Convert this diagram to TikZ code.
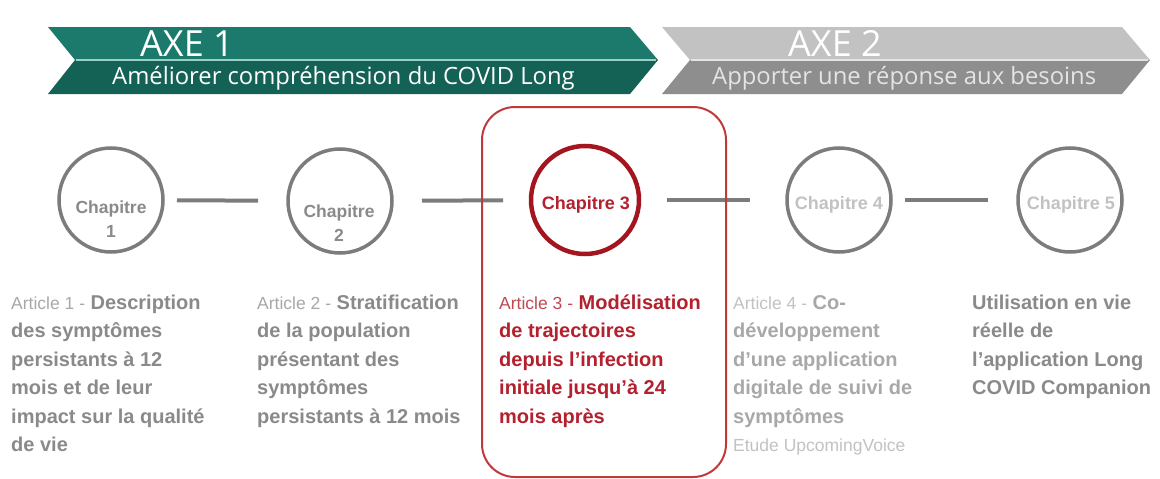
\documentclass[tikz,border=0pt]{standalone}
\usepackage{fontspec}
\setmainfont{Liberation Sans}
\newfontfamily\bannerfont{Open Sans}
\definecolor{tealup}{HTML}{1B7A6C}
\definecolor{tealdown}{HTML}{146256}
\definecolor{tealline}{HTML}{9CCFC6}
\definecolor{greyup}{HTML}{C2C2C2}
\definecolor{greydown}{HTML}{8E8E8E}
\definecolor{greyline}{HTML}{E4E4E4}
\definecolor{ring}{HTML}{7C7C7C}
\definecolor{ringred}{HTML}{A3161F}
\definecolor{framered}{HTML}{C03A3C}
\definecolor{txtdark}{HTML}{8A8A8A}
\definecolor{txtlight}{HTML}{A8A8A8}
\definecolor{txtpale}{HTML}{C2C2C2}
\definecolor{txtred}{HTML}{B3202E}
\definecolor{txtredlight}{HTML}{BE4A52}
\tikzset{
  chapring/.style={circle, draw=ring, line width=3.5pt, minimum size=104pt, inner sep=0pt, outer sep=0pt},
  chapringred/.style={circle, draw=ringred, line width=4.5pt, minimum size=108pt, inner sep=0pt, outer sep=0pt},
  chaptext/.style={font=\fontsize{17.5}{24}\selectfont\bfseries, align=center, inner sep=0pt},
  link/.style={draw=ring, line width=4pt},
  column/.style={anchor=north west, inner sep=0pt, align=left, font=\fontsize{20}{28.5}\selectfont\bfseries},
  axetitle/.style={anchor=base west, inner sep=0pt, text=white, font=\bannerfont\fontsize{36}{40}\selectfont},
  axesub/.style={anchor=base west, inner sep=0pt, font=\bannerfont\fontsize{23.8}{28}\selectfont},
}
\newcommand{\art}[1]{{\mdseries\fontsize{17.5}{28.5}\selectfont #1}}
\begin{document}
\begin{tikzpicture}[x=1pt, y=1pt]
\useasboundingbox (0,0) rectangle (1160,-479);
\fill[white] (0,0) rectangle (1160,-479);

% --- Axis banners ---
\fill[tealup] (48,-27) -- (630,-27) -- (658,-60) -- (75,-60) -- cycle;
\fill[tealdown] (75,-60) -- (658,-60) -- (630,-94) -- (48,-94) -- cycle;
\draw[tealline, line width=1.6pt] (76,-60) -- (656,-60);
\fill[greyup] (662,-27) -- (1122,-27) -- (1150,-60) -- (690,-60) -- cycle;
\fill[greydown] (690,-60) -- (1150,-60) -- (1122,-94) -- (662,-94) -- cycle;
\draw[greyline, line width=1.6pt] (691,-60) -- (1148,-60);

\node[axetitle] (axe1) at (140,-56) {AXE 1};
\node[axesub, text=white] (axe1s) at (112,-84) {Améliorer compréhension du COVID Long};
\node[axetitle] (axe2) at (788,-56) {AXE 2};
\node[axesub, text=greyline] (axe2s) at (712,-84) {Apporter une réponse aux besoins};

% --- Chapter rings ---
\node[chapring] (c1) at (111,-200) {};
\node[chapring] (c2) at (340,-201) {};
\node[chapringred] (c3) at (585,-200) {};
\node[chapring] (c4) at (839,-200) {};
\node[chapring] (c5) at (1070,-200) {};

\node[chaptext, text=txtdark] (t1) at (111,-219) {Chapitre\\1};
\node[chaptext, text=txtdark] (t2) at (339,-223) {Chapitre\\2};
\node[chaptext, text=txtred, font=\fontsize{18}{24}\selectfont\bfseries] (t3) at (586,-205) {Chapitre 3};
\node[chaptext, text=txtpale, font=\fontsize{18}{24}\selectfont\bfseries] (t4) at (839,-205) {Chapitre 4};
\node[chaptext, text=txtpale, font=\fontsize{18}{24}\selectfont\bfseries] (t5) at (1071,-205) {Chapitre 5};

% --- Links between chapters ---
\draw[link, shorten <=14pt, shorten >=30pt] (c1) -- (c2);
\draw[link, shorten <=30pt, shorten >=28pt] (c2) -- (c3);
\draw[link, shorten <=28pt, shorten >=37pt] (c3) -- (c4);
\draw[link, shorten <=14pt, shorten >=30pt] (c4) -- (c5);

% --- Highlight frame around chapter 3 ---
\node[draw=framered, line width=2pt, rounded corners=33pt, minimum width=244pt, minimum height=370pt, inner sep=0pt] (focus) at (604,-292) {};

% --- Article descriptions ---
\node[column, text=txtdark] (a1) at (11,-293) {\rule{0pt}{16pt}{\color{txtlight}\art{Article 1 -}} Description\\des symptômes\\persistants à 12\\mois et de leur\\impact sur la qualité\\de vie};
\node[column, text=txtdark] (a2) at (257,-293) {\rule{0pt}{16pt}{\color{txtlight}\art{Article 2 -}} Stratification\\de la population\\présentant des\\symptômes\\persistants à 12 mois};
\node[column, text=txtred] (a3) at (499,-293) {\rule{0pt}{16pt}{\color{txtredlight}\art{Article 3 -}} Modélisation\\de trajectoires\\depuis l’infection\\initiale jusqu’à 24\\mois après};
\node[column, text=txtlight] (a4) at (733,-293) {\rule{0pt}{16pt}{\color{txtpale}\art{Article 4 -}} Co-\\développement\\d’une application\\digitale de suivi de\\symptômes\\{\color{txtpale}\art{Etude UpcomingVoice}}};
\node[column, text=txtdark] (a5) at (972,-293) {\rule{0pt}{16pt}Utilisation en vie\\réelle de\\l’application Long\\COVID Companion};
\end{tikzpicture}
\end{document}
